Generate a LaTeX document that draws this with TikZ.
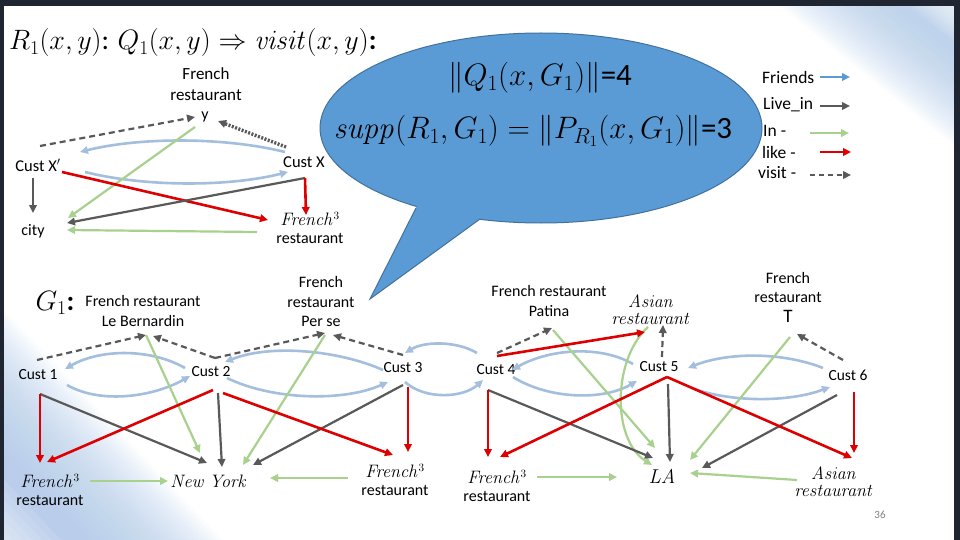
\documentclass[tikz,border=0pt]{standalone}
\usepackage{fix-cm}
\usepackage{amsmath}
\usepackage[no-math]{fontspec}
\setmainfont{Carlito}
\usetikzlibrary{arrows.meta}
\definecolor{cborder}{RGB}{31,38,50}
\definecolor{cfriend}{RGB}{164,190,222}
\definecolor{cfriendleg}{RGB}{91,155,213}
\definecolor{cgrey}{RGB}{89,89,89}
\definecolor{cgreen}{RGB}{169,209,142}
\definecolor{cred}{RGB}{222,0,0}
\definecolor{cbubble}{RGB}{91,155,213}
\definecolor{cbubbleedge}{RGB}{65,113,156}
\definecolor{cshade}{RGB}{178,205,236}
\newcommand\myit[1]{{\fontsize{18}{20}\selectfont$\mathit{#1}$}}
\begin{document}
\begin{tikzpicture}[x=1pt,y=-1pt,
 lbl/.style={inner sep=0pt, align=center, font=\fontsize{16}{19.5}\selectfont},
 cust/.style={inner sep=0pt, font=\fontsize{15.5}{18}\selectfont},
 leg/.style={inner sep=0pt, anchor=west, font=\fontsize{17.5}{20}\selectfont},
 big/.style={inner sep=0pt, font=\fontsize{28}{32}\selectfont},
 bub/.style={inner sep=0pt, font=\fontsize{31}{34}\selectfont},
 tip/.style={-{Triangle[length=8pt,width=7.5pt]}},
 friend/.style={tip, draw=cfriend, line width=2.6pt},
 friendleg/.style={tip, draw=cfriendleg, line width=2.6pt},
 livein/.style={tip, draw=cgrey, line width=2.2pt},
 inrel/.style={tip, draw=cgreen, line width=2.2pt},
 likes/.style={tip, draw=cred, line width=2.6pt},
 visits/.style={tip, draw=cgrey, line width=2.2pt, dash pattern=on 6pt off 4pt},
 visitdot/.style={tip, draw=cgrey, line width=3.4pt, dash pattern=on 2pt off 1.5pt},
]
\useasboundingbox (0,0) rectangle (960,540);
% background
\fill[white] (0,0) rectangle (960,540);
\foreach \d in {175,170,...,60} \fill[cshade, opacity=0.06] (955-\d,6) -- (955,6) -- (955,6+0.8*\d) -- cycle;
\foreach \d in {45,40,...,10} \fill[white, opacity=0.1] (955-\d,6) -- (955,6) -- (955,6+0.8*\d) -- cycle;
\foreach \d in {230,225,...,90} \fill[cshade, opacity=0.06] (4,540-\d) -- (4,540) -- (4+0.95*\d,540) -- cycle;
\foreach \d in {60,50,...,10} \fill[white, opacity=0.1] (4,540-\d) -- (4,540) -- (4+0.95*\d,540) -- cycle;
\fill[cborder] (0,0) rectangle (960,6);
\fill[cborder] (0,0) rectangle (4,540);
\fill[cborder] (954,0) rectangle (960,540);

% title
\node[big, anchor=west] (title) at (9,43) {$R_1(x,y)$: $Q_1(x,y) \Rightarrow \mathit{visit}(x,y)$\textbf{:}};

% bubble
\draw[fill=cbubble, draw=cbubbleedge, line width=1pt] (541,128) ellipse (221pt and 95pt);
\fill[cbubble] (416,208) -- (370,299) -- (480,219) -- (470,195) -- (425,190) -- cycle;
\draw[cbubbleedge, line width=1pt] (416,208) -- (370,299) -- (480,219);
\node[bub] (qnorm) at (540,78) {$\lVert Q_1(x,G_1)\rVert$=4};
\node[bub] (supp) at (533,131) {$\mathit{supp}(R_1,G_1) = \left\lVert P_{R_1}(x,G_1)\right\rVert$=3};

% legend
\node[leg] (lgf) at (762,77) {Friends};
\node[leg] (lgl) at (763,105) {Live\_in};
\node[leg] (lgi) at (763,131) {In -};
\node[leg] (lgk) at (762,152) {like -};
\node[leg] (lgv) at (758,173) {visit -};
\coordinate (lgfa) at (820,77);   \coordinate (lgfb) at (850,77);
\coordinate (lgla) at (820,106);  \coordinate (lglb) at (850,106);
\coordinate (lgia) at (810,133);  \coordinate (lgib) at (849,133);
\coordinate (lgka) at (820,152);  \coordinate (lgkb) at (851,152);
\coordinate (lgva) at (810,175);  \coordinate (lgvb) at (851,175);
\draw[friendleg] (lgfa) -- (lgfb);
\draw[livein] (lgla) -- (lglb);
\draw[inrel] (lgia) -- (lgib);
\draw[likes] (lgka) -- (lgkb);
\draw[visits, dash pattern=on 5pt off 4pt] (lgva) -- (lgvb);

% ---------- pattern graph ----------
\node[lbl, font=\fontsize{17}{21}\selectfont] (frt) at (206,84) {French\\restaurant};
\node[lbl] (y) at (205,117) {y};
\node[cust, font=\fontsize{16.5}{19}\selectfont] (cxp) at (38,165) {Cust X$'$};
\node[cust, font=\fontsize{16.5}{19}\selectfont] (cx) at (304,162) {Cust X};
\node[lbl] (city) at (33,231) {city};
\node[lbl] (fr3t) at (310,228) {\myit{French}$^3$\\[-2pt]restaurant};

\coordinate (cxpV) at (40,146);  \coordinate (yL) at (195,117);
\coordinate (cxV) at (286,147);  \coordinate (yR) at (218,121);
\coordinate (cxU) at (285,152);  \coordinate (cxpU) at (80,152);
\coordinate (cxpL) at (85,172);  \coordinate (cxL) at (288,172);
\coordinate (yB) at (195,127);   \coordinate (cityA) at (68,218);
\coordinate (cxpR) at (62,172);  \coordinate (fr3L) at (268,220);
\coordinate (cxB) at (305,178);  \coordinate (cityB) at (67,223);
\coordinate (fr3T) at (306,215);
\coordinate (cxpB) at (33,178);  \coordinate (cityT) at (33,213);
\coordinate (fr3W) at (257,232); \coordinate (cityR) at (67,230);

\draw[friend] (cxU) .. controls +(-60,-15) and +(60,-15) .. (cxpU);
\draw[friend] (cxpL) .. controls +(60,15) and +(-60,15) .. (cxL);
\draw[visits] (cxpV) -- (yL);
\draw[visitdot] (cxV) -- (yR);
\draw[inrel] (yB) -- (cityA);
\draw[likes] (cxpR) -- (fr3L);
\draw[livein] (cxB) -- (cityB);
\draw[likes] (cxB) -- (fr3T);
\draw[livein] (cxpB) -- (cityT);
\draw[inrel] (fr3W) -- (cityR);

% ---------- data graph G1 ----------
\node[big] (g1) at (55,303) {$G_1$\textbf{:}};
\node[lbl] (lb) at (143,311) {French restaurant\\Le Bernardin};
\node[lbl] (ps) at (321,302) {French\\restaurant\\Per se};
\node[lbl] (pat) at (549,301) {French restaurant\\Patina};
\node[lbl] (asn) at (651,310) {\myit{Asian}\\[-2pt]\myit{restaurant}};
\node[lbl] (tr) at (788,297) {French\\restaurant\\{\fontsize{19}{20}\selectfont T}};
\node[cust] (c1) at (38,375) {Cust 1};
\node[cust] (c2) at (211,372) {Cust 2};
\node[cust] (c3) at (403,368) {Cust 3};
\node[cust] (c4) at (496,370) {Cust 4};
\node[cust] (c5) at (659,367) {Cust 5};
\node[cust] (c6) at (848,375) {Cust 6};
\node[lbl] (f3a) at (50,490) {\myit{French}$^3$\\[-2pt]restaurant};
\node[lbl] (ny) at (209,481) {\myit{New\ York}};
\node[lbl] (f3b) at (395,480) {\myit{French}$^3$\\[-2pt]restaurant};
\node[lbl] (f3c) at (497,486) {\myit{French}$^3$\\[-2pt]restaurant};
\node[lbl] (la) at (662,477) {{\fontsize{20}{22}\selectfont$\mathit{LA}$}};
\node[lbl] (asb) at (834,482) {\myit{Asian}\\[-2pt]\myit{restaurant}};
\node[inner sep=0pt, text=gray, font=\fontsize{11}{13}\selectfont] (pg) at (880,515) {36};

% connection points
\coordinate (c1T) at (37,360);   \coordinate (c1B) at (40,394);
\coordinate (lbB1) at (146,335); \coordinate (lbB2) at (153,336);
\coordinate (c2T) at (215,358);  \coordinate (c2Bl) at (213,390);
\coordinate (c2Bm) at (218,393); \coordinate (c2Br) at (223,393);
\coordinate (psB1) at (325,333); \coordinate (psB2) at (333,335);
\coordinate (psG) at (325,335);
\coordinate (c3T) at (403,355);  \coordinate (c3B) at (403,385);
\coordinate (c3Br) at (408,387);
\coordinate (nyA) at (207,463);  \coordinate (nyB) at (222,467);
\coordinate (nyC) at (253,465);  \coordinate (nyD) at (200,453);
\coordinate (nyE) at (243,465);  \coordinate (nyL) at (168,481);
\coordinate (nyR) at (270,478);
\coordinate (f3aT) at (40,463);  \coordinate (f3aR) at (47,462);
\coordinate (f3aE) at (90,481);
\coordinate (f3bL) at (393,455); \coordinate (f3bT) at (408,452);
\coordinate (f3bW) at (348,478);
\coordinate (c4T) at (497,353);  \coordinate (c4Tr) at (497,356);
\coordinate (c4B) at (488,390);
\coordinate (patB) at (552,328); \coordinate (patG) at (553,330);
\coordinate (asnL) at (645,332); \coordinate (asnB) at (663,325);
\coordinate (asnG) at (648,327);
\coordinate (c5T) at (662,357);  \coordinate (c5B) at (667,377);
\coordinate (c5Bm) at (668,384);
\coordinate (trB) at (797,334);  \coordinate (trG) at (790,337);
\coordinate (c6T) at (843,360);  \coordinate (c6B) at (837,395);
\coordinate (c6Br) at (854,392);
\coordinate (laA) at (655,448);  \coordinate (laB) at (652,465);
\coordinate (laC) at (690,460);  \coordinate (laD) at (653,458);
\coordinate (laE) at (670,462);  \coordinate (laF) at (702,468);
\coordinate (laL) at (617,477);  \coordinate (laR) at (690,473);
\coordinate (f3cT) at (488,457); \coordinate (f3cR) at (500,457);
\coordinate (f3cE) at (537,477);
\coordinate (asbT) at (854,453); \coordinate (asbL) at (852,458);
\coordinate (asbW) at (797,480);

% friend arcs
\coordinate (c2fa) at (185,368); \coordinate (c1fa) at (65,369);
\coordinate (c1fb) at (67,385);  \coordinate (c2fb) at (190,376);
\coordinate (c3fa) at (383,370); \coordinate (c2fc) at (225,362);
\coordinate (c2fd) at (227,378); \coordinate (c3fb) at (388,382);
\coordinate (c4fa) at (477,353); \coordinate (c3fc) at (405,353);
\coordinate (c3fd) at (405,382); \coordinate (c4fb) at (483,380);
\coordinate (c5fa) at (633,364); \coordinate (c4fc) at (512,370);
\coordinate (c4fd) at (513,377); \coordinate (c5fb) at (637,381);
\coordinate (c6fa) at (823,368); \coordinate (c5fc) at (688,368);
\coordinate (c5fd) at (692,388); \coordinate (c6fb) at (830,387);

\draw[friend] (c2fa) .. controls +(-35,-20) and +(35,-20) .. (c1fa);
\draw[friend] (c1fb) .. controls +(35,20) and +(-35,20) .. (c2fb);
\draw[friend] (c3fa) .. controls +(-45,-20) and +(45,-18) .. (c2fc);
\draw[friend] (c2fd) .. controls +(45,22) and +(-45,20) .. (c3fb);
\draw[friend] (c4fa) .. controls +(-20,-12) and +(20,-12) .. (c3fc);
\draw[friend] (c3fd) .. controls +(20,18) and +(-20,18) .. (c4fb);
\draw[friend] (c5fa) .. controls +(-35,-20) and +(35,-20) .. (c4fc);
\draw[friend] (c4fd) .. controls +(35,22) and +(-35,20) .. (c5fb);
\draw[friend] (c6fa) .. controls +(-40,-16) and +(40,-16) .. (c5fc);
\draw[friend] (c5fd) .. controls +(40,15) and +(-40,15) .. (c6fb);

% visit
\draw[visits] (c1T) -- (lbB1);
\draw[visits] (c2T) -- (lbB2);
\draw[visits] (c2T) -- (psB1);
\draw[visits] (c3T) -- (psB2);
\draw[visits] (c4T) -- (patB);
\draw[visits] (c5T) -- (asnB);
\draw[visits] (c6T) -- (trB);

% in
\draw[inrel] (lbB1) -- (nyD);
\draw[inrel] (psG) -- (nyE);
\draw[inrel] (f3aE) -- (nyL);
\draw[inrel] (f3bW) -- (nyR);
\draw[inrel] (patG) -- (laA);
\draw[inrel] (asnG) .. controls (612,360) and (612,440) .. (laB);
\draw[inrel] (trG) -- (laC);
\draw[inrel] (f3cE) -- (laL);
\draw[inrel] (asbW) -- (laR);

% live_in
\draw[livein] (c1B) -- (nyA);
\draw[livein] (c2Bm) -- (nyB);
\draw[livein] (c3B) -- (nyC);
\draw[livein] (c4B) -- (laD);
\draw[livein] (c5Bm) -- (laE);
\draw[livein] (c6B) -- (laF);

% like
\draw[likes] (c1B) -- (f3aT);
\draw[likes] (c2Bl) -- (f3aR);
\draw[likes] (c2Br) -- (f3bL);
\draw[likes] (c3Br) -- (f3bT);
\draw[likes] (c4Tr) -- (asnL);
\draw[likes] (c4B) -- (f3cT);
\draw[likes] (c5B) -- (f3cR);
\draw[likes] (c5B) -- (asbL);
\draw[likes] (c6Br) -- (asbT);
\end{tikzpicture}
\end{document}
